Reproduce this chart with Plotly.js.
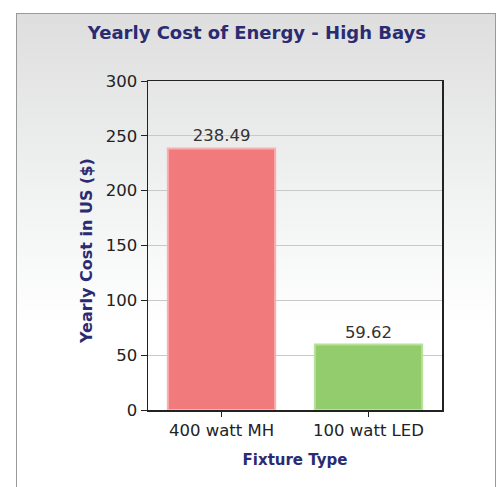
<!DOCTYPE html>
<html><head><meta charset="utf-8">
<script src="https://cdn.plot.ly/plotly-3.0.1.min.js"></script>
<style>
html,body{margin:0;padding:0;background:#fff;width:497px;height:487px;overflow:hidden;}
#bg{position:absolute;left:16px;top:13px;width:478px;height:480px;border:1px solid #999;
 background:linear-gradient(to bottom,#dedede 0%,#f2f3f3 40%,#ffffff 65%,#ffffff 100%);}
#chart{position:absolute;left:0;top:0;width:497px;height:487px;}
</style></head>
<body>
<div id="bg"></div>
<div id="chart"></div>
<script>
const categories = ["400 watt MH", "100 watt LED"];
const costs = [238.49, 59.62];
const labels = ["238.49", "59.62"];
const fillColors = ["#f07a7c", "#93cc6c"];
const lineColors = ["#f9b0b2", "#b6e29a"];
const yTicks = [0, 50, 100, 150, 200, 250, 300];

const FONT = "DejaVu Sans, Verdana, sans-serif";
const trace = {
  type: "bar",
  x: categories,
  y: costs,
  text: labels,
  textposition: "outside",
  cliponaxis: false,
  textfont: {family: FONT, size: 16.5, color: "#333"},
  marker: {color: fillColors, line: {color: lineColors, width: 2}},
  width: 0.73,
  hoverinfo: "none"
};

const navy = "#2b2b72";
const layout = {
  width: 497, height: 487,
  margin: {l: 148, r: 55, t: 81, b: 77},
  paper_bgcolor: "rgba(0,0,0,0)",
  plot_bgcolor: "rgba(0,0,0,0)",
  showlegend: false,
  title: {text: "Yearly Cost of Energy - High Bays", x: 0.517, xanchor: "center", y: 0.932, yanchor: "middle",
    font: {family: FONT, size: 18, color: navy, weight: "bold"}},
  xaxis: {
    showline: true, linecolor: "#222", linewidth: 1.5, mirror: true,
    ticks: "outside", ticklen: 5, tickcolor: "#222",
    tickfont: {family: FONT, size: 16.5, color: "#222"},
    title: {text: "Fixture Type", standoff: 15, font: {family: FONT, size: 15, color: navy, weight: "bold"}}
  },
  yaxis: {
    range: [0, 300], tickvals: yTicks, ticktext: yTicks.map(String),
    showline: true, linecolor: "#222", linewidth: 1.5, mirror: true,
    ticks: "outside", ticklen: 6, tickcolor: "#222",
    showgrid: true, gridcolor: "#c8c8c8", gridwidth: 1, zeroline: false,
    tickfont: {family: FONT, size: 16.5, color: "#222"}
  },
  annotations: [{
    text: "Yearly Cost in US ($)", xref: "paper", yref: "paper",
    x: -0.211, y: 0.483, xanchor: "center", yanchor: "middle",
    textangle: -90, showarrow: false,
    font: {family: FONT, size: 16, color: navy, weight: "bold"}
  }]
};

Plotly.newPlot("chart", [trace], layout, {displayModeBar: false, staticPlot: true});
</script>
</body></html>
